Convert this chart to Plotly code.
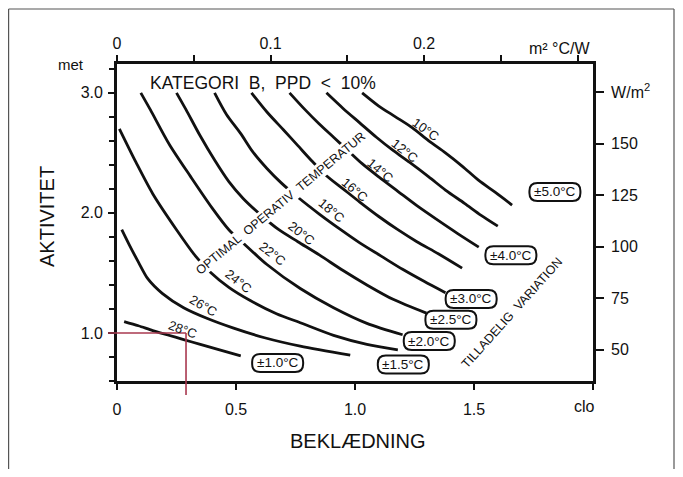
import plotly.graph_objects as go

# ------------------------------------------------------------------
# Data (x = clothing in clo, y = activity in met)
# ------------------------------------------------------------------
MET_TO_WM2 = 58.2      # 1 met = 58.2 W/m2
CLO_TO_M2KW = 0.155    # 1 clo = 0.155 m2 °C/W

clo_10 = [1.03, 1.10, 1.17, 1.24, 1.31, 1.38, 1.45, 1.52, 1.59, 1.66]
met_10 = [3.00, 2.89, 2.80, 2.71, 2.60, 2.50, 2.39, 2.27, 2.17, 2.065]

clo_12 = [0.88, 0.95, 1.02, 1.09, 1.16, 1.23, 1.31, 1.38, 1.46, 1.53, 1.60]
met_12 = [3.00, 2.87, 2.75, 2.63, 2.52, 2.42, 2.30, 2.19, 2.08, 1.98, 1.89]

clo_14 = [0.725, 0.79, 0.85, 0.91, 0.97, 1.03, 1.10, 1.18, 1.26, 1.34, 1.43, 1.52]
met_14 = [3.00, 2.86, 2.74, 2.63, 2.52, 2.41, 2.30, 2.18, 2.06, 1.95, 1.83, 1.715]

clo_16 = [0.565, 0.63, 0.70, 0.76, 0.82, 0.88, 0.95, 1.02, 1.10, 1.18, 1.26, 1.35, 1.45]
met_16 = [3.00, 2.84, 2.69, 2.56, 2.43, 2.31, 2.20, 2.09, 1.97, 1.86, 1.76, 1.66, 1.54]

clo_18 = [0.41, 0.46, 0.52, 0.57, 0.63, 0.69, 0.76, 0.85, 0.94, 1.02, 1.11, 1.20, 1.29, 1.38]
met_18 = [3.00, 2.82, 2.66, 2.51, 2.37, 2.25, 2.13, 1.99, 1.86, 1.75, 1.64, 1.53, 1.43, 1.335]

clo_20 = [0.25, 0.29, 0.35, 0.41, 0.47, 0.53, 0.60, 0.68, 0.76, 0.85, 0.95, 1.05, 1.16, 1.30]
met_20 = [3.00, 2.86, 2.64, 2.44, 2.26, 2.12, 1.99, 1.86, 1.76, 1.65, 1.52, 1.40, 1.28, 1.165]

clo_22 = [0.10, 0.14, 0.22, 0.31, 0.40, 0.47, 0.53, 0.63, 0.77, 0.91, 1.05, 1.20]
met_22 = [3.00, 2.86, 2.57, 2.30, 2.04, 1.86, 1.75, 1.57, 1.37, 1.21, 1.08, 0.985]

clo_24 = [0.01, 0.08, 0.15, 0.25, 0.33, 0.39, 0.47, 0.56, 0.67, 0.77, 0.91, 1.05, 1.18]
met_24 = [2.70, 2.42, 2.16, 1.86, 1.64, 1.51, 1.38, 1.27, 1.16, 1.085, 0.98, 0.905, 0.86]

clo_26 = [0.02, 0.05, 0.09, 0.13, 0.19, 0.28, 0.38, 0.49, 0.62, 0.77, 0.98]
met_26 = [1.86, 1.74, 1.59, 1.45, 1.33, 1.21, 1.12, 1.04, 0.96, 0.89, 0.815]

clo_28 = [0.03, 0.09, 0.15, 0.21, 0.28, 0.35, 0.42, 0.52]
met_28 = [1.095, 1.06, 1.02, 0.985, 0.945, 0.905, 0.865, 0.81]

temp_labels = ["10°C", "12°C", "14°C", "16°C", "18°C",
               "20°C", "22°C", "24°C", "26°C", "28°C"]
temp_label_clo = [1.28, 1.19, 1.09, 0.98, 0.885, 0.76, 0.635, 0.495, 0.345, 0.26]
temp_label_met = [2.65, 2.475, 2.315, 2.15, 1.98, 1.79, 1.62, 1.39, 1.19, 0.985]

variation_labels = ["±1.0°C", "±1.5°C", "±2.0°C", "±2.5°C", "±3.0°C", "±4.0°C", "±5.0°C"]
variation_clo = [0.675, 1.203, 1.312, 1.403, 1.488, 1.655, 1.84]
variation_met = [0.75, 0.738, 0.933, 1.11, 1.283, 1.648, 2.175]

clo_ticks = [0, 0.5, 1.0, 1.5, 2.0]
clo_ticktext = ["0", "0.5", "1.0", "1.5", " "]
met_ticks = [1.0, 2.0, 3.0]
met_ticktext = ["1.0", "2.0", "3.0"]
wm2_ticks = [50, 75, 100, 125, 150, 175]
wm2_ticktext = ["50", "75", "100", "125", "150", "W/m<sup>2</sup>"]
r_ticks = [0, 0.05, 0.1, 0.15, 0.2, 0.25, 0.3]
r_ticktext = ["0", " ", "0.1", " ", "0.2", " ", " "]

ref_clo = 0.29   # red marker lines
ref_met = 1.0

# ------------------------------------------------------------------
# Page geometry (page pixels).  The browser adds an 8 px body margin,
# so the figure itself starts at page (8, 8).
BODY = 8
X_MAX = 2.0
Y_MIN, Y_MAX = 0.6, 3.24
PLOT_L, PLOT_R, PLOT_T, PLOT_B = 117, 593, 64, 381
FIG_W, FIG_H = 667, 461
ML = PLOT_L - BODY
MT = PLOT_T - BODY
MR = (BODY + FIG_W) - PLOT_R
MB = (BODY + FIG_H) - PLOT_B
PW, PH = PLOT_R - PLOT_L, PLOT_B - PLOT_T

def px_x(p):   # page pixel -> paper x
    return (p - PLOT_L) / PW

def px_y(p):   # page pixel -> paper y
    return (PLOT_B - p) / PH

FONT = "Liberation Sans, Arial, Helvetica, sans-serif"
INK = "#111111"

curves = [(clo_10, met_10), (clo_12, met_12), (clo_14, met_14), (clo_16, met_16),
          (clo_18, met_18), (clo_20, met_20), (clo_22, met_22), (clo_24, met_24),
          (clo_26, met_26), (clo_28, met_28)]

fig = go.Figure()
for (cx, cy), name in zip(curves, temp_labels):
    fig.add_trace(go.Scatter(x=cx, y=cy, mode="lines", name=name,
                             line=dict(color=INK, width=2.8, shape="spline", smoothing=0.8),
                             hoverinfo="skip", showlegend=False))

# invisible trace so the secondary (top / right) axes are drawn
fig.add_trace(go.Scatter(x=[0, X_MAX * CLO_TO_M2KW], y=[Y_MIN * MET_TO_WM2, Y_MAX * MET_TO_WM2],
                         xaxis="x2", yaxis="y2", mode="lines", line=dict(width=0),
                         opacity=0, hoverinfo="skip", showlegend=False))

axis_common = dict(showline=True, linecolor=INK, linewidth=2.8, ticks="outside",
                   ticklen=6, tickwidth=1.8, tickcolor=INK, showgrid=False, zeroline=False,
                   automargin=False,
                   tickfont=dict(family=FONT, size=16, color=INK))

fig.update_layout(
    template="none",
    width=FIG_W, height=FIG_H,
    margin=dict(l=ML, r=MR, t=MT, b=MB, pad=0),
    paper_bgcolor="white", plot_bgcolor="white",
    font=dict(family=FONT, color=INK),
    xaxis=dict(range=[0, X_MAX], tickmode="array", tickvals=clo_ticks, ticktext=clo_ticktext,
               ticklabelstandoff=6, **axis_common),
    xaxis2=dict(range=[0, X_MAX * CLO_TO_M2KW], overlaying="x", side="top", anchor="y",
                tickmode="array", tickvals=r_ticks, ticktext=r_ticktext, **axis_common),
    yaxis=dict(range=[Y_MIN, Y_MAX], tickmode="array", tickvals=met_ticks, ticktext=met_ticktext,
               minor=dict(tickmode="linear", tick0=0.6, dtick=0.2, ticks="outside",
                          ticklen=5, tickwidth=1.5, tickcolor=INK, showgrid=False),
               ticklabelstandoff=2, **axis_common),
    yaxis2=dict(range=[Y_MIN * MET_TO_WM2, Y_MAX * MET_TO_WM2], overlaying="y", side="right",
                anchor="x", tickmode="array", tickvals=wm2_ticks, ticktext=wm2_ticktext,
                ticklabelstandoff=4, **axis_common),
)
fig.update_layout(yaxis2_ticklen=8)

ann = []
# temperature labels on curves
label_angles = [35, 38, 40, 40, 40, 38, 38, 38, 30, 20]
for t, x, y, a in zip(temp_labels, temp_label_clo, temp_label_met, label_angles):
    ann.append(dict(x=x, y=y, xref="x", yref="y", text=t, showarrow=False, textangle=a,
                    xshift=4, yshift=5, xanchor="center", yanchor="middle",
                    font=dict(family=FONT, size=13, color=INK)))

# rounded boxes for permissible variation
def rounded(w, h, r):
    return (f"M{-w + r},{-h} L{w - r},{-h} Q{w},{-h} {w},{-h + r} L{w},{h - r} "
            f"Q{w},{h} {w - r},{h} L{-w + r},{h} Q{-w},{h} {-w},{h - r} "
            f"L{-w},{-h + r} Q{-w},{-h} {-w + r},{-h} Z")

shapes = []
for t, x, y in zip(variation_labels, variation_clo, variation_met):
    shapes.append(dict(type="path", xref="x", yref="y", xsizemode="pixel", ysizemode="pixel",
                       xanchor=x, yanchor=y, path=rounded(25.5, 9, 8),
                       line=dict(color=INK, width=2.0), fillcolor="white", layer="above"))
    ann.append(dict(x=x, y=y, xref="x", yref="y", text=t, showarrow=False,
                    xanchor="center", yanchor="middle",
                    font=dict(family=FONT, size=13.5, color=INK)))

# big texts
ann.append(dict(x=0.69, y=2.08, xref="x", yref="y", text="OPTIMAL  OPERATIV  TEMPERATUR",
                showarrow=False, textangle=-39.6, bgcolor="white", borderpad=0,
                xanchor="center", yanchor="middle",
                font=dict(family=FONT, size=12.5, color=INK)))
ann.append(dict(x=1.659, y=1.17, xref="x", yref="y", text="TILLADELIG  VARIATION",
                showarrow=False, textangle=-48, xanchor="center", yanchor="middle",
                font=dict(family=FONT, size=12.5, color=INK)))
ann.append(dict(x=0.13, y=3.08, xref="x", yref="y", xanchor="left", yanchor="middle",
                text="KATEGORI\u00a0\u00a0B,\u00a0\u00a0PPD\u00a0\u00a0<\u00a0\u00a010%",
                showarrow=False, font=dict(family=FONT, size=17.5, color=INK)))

# axis unit labels / titles
ann.append(dict(x=px_x(86), y=px_y(65), xref="paper", yref="paper", xanchor="right",
                yanchor="middle", text="met", showarrow=False,
                font=dict(family=FONT, size=15, color=INK)))
ann.append(dict(x=1.0, y=px_y(48), xref="paper", yref="paper", xanchor="right",
                yanchor="middle", text="m² °C/W", showarrow=False,
                font=dict(family=FONT, size=16, color=INK)))
ann.append(dict(x=px_x(597), y=px_y(406), xref="paper", yref="paper", xanchor="right",
                yanchor="middle", text="clo", showarrow=False,
                font=dict(family=FONT, size=16, color=INK)))
ann.append(dict(x=px_x(47), y=px_y(217), xref="paper", yref="paper", text="AKTIVITET",
                xanchor="center", yanchor="middle",
                textangle=-90, showarrow=False, font=dict(family=FONT, size=20, color=INK)))
ann.append(dict(x=px_x(358), y=px_y(441), xref="paper", yref="paper", text="BEKLÆDNING",
                xanchor="center", yanchor="middle",
                showarrow=False, font=dict(family=FONT, size=20, color=INK)))

# red reference lines
RED = "#a8384f"
ref_y_paper = (ref_met - Y_MIN) / (Y_MAX - Y_MIN)
ref_x_paper = ref_clo / X_MAX
shapes.append(dict(type="line", xref="paper", yref="y", x0=px_x(108), x1=ref_x_paper,
                   y0=ref_met, y1=ref_met, line=dict(color=RED, width=1.6), layer="above"))
shapes.append(dict(type="line", xref="x", yref="paper", x0=ref_clo, x1=ref_clo,
                   y0=ref_y_paper, y1=px_y(395), line=dict(color=RED, width=1.6), layer="above"))

# outer frame of the scanned figure
for x0, y0, x1, y1 in [(8.6, 9, 674, 9), (8.6, 9, 8.6, 470), (674, 9, 674, 470)]:
    shapes.append(dict(type="line", xref="paper", yref="paper",
                       x0=px_x(x0), y0=px_y(y0), x1=px_x(x1), y1=px_y(y1),
                       line=dict(color="#555555", width=1.2)))

fig.update_layout(annotations=ann, shapes=shapes)
fig.write_html("out.html")
